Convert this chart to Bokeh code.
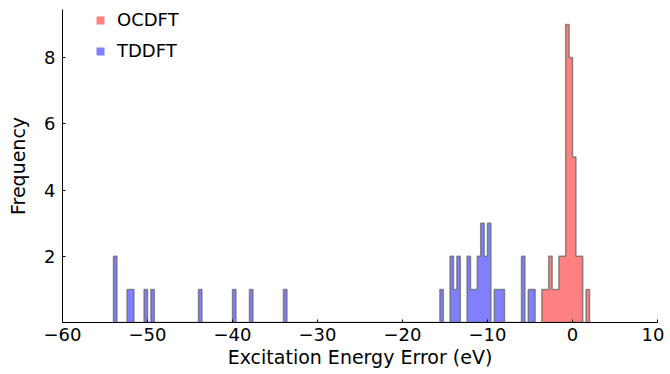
from bokeh.plotting import figure
from bokeh.models import Range1d, FixedTicker, Legend, LegendItem
from bokeh.embed import file_html
from bokeh.resources import INLINE

# Histogram bins (left edge, eV) and counts, bin width 0.4 eV
bin_width = 0.4
ocdft_left = [-3.6, -3.2, -2.8, -2.4, -2.0, -1.6, -1.2, -0.8, -0.4, 0.0, 0.4, 0.8, 1.6]
ocdft_count = [1, 1, 2, 1, 1, 2, 2, 9, 8, 5, 2, 2, 1]
tddft_left = [-54.0, -52.4, -52.0, -50.4, -49.6, -44.0, -40.0, -38.0, -34.0,
              -15.6, -14.4, -14.0, -13.6, -12.4, -12.0, -11.6, -11.2, -10.8,
              -10.4, -10.0, -9.2, -8.8, -8.4, -6.0, -5.2, -4.8]
tddft_count = [2, 1, 1, 1, 1, 1, 1, 1, 1,
               1, 2, 1, 2, 2, 1, 1, 2, 3,
               2, 3, 1, 1, 1, 2, 1, 1]
x_ticks = [-60, -50, -40, -30, -20, -10, 0, 10]
y_ticks = [2, 4, 6, 8]

FONT = "DejaVu Sans"


def step_outline(lefts, counts, w):
    xs, ys = [lefts[0]], [0]
    prev_right = None
    for l, c in zip(lefts, counts):
        if prev_right is not None and abs(l - prev_right) > 1e-9:
            xs += [prev_right, l]
            ys += [0, 0]
        xs += [l, l + w]
        ys += [c, c]
        prev_right = l + w
    xs.append(prev_right)
    ys.append(0)
    return xs, ys


p = figure(width=664, height=370, output_backend="svg", toolbar_location=None,
           x_range=Range1d(-60, 10), y_range=Range1d(0, 9.45),
           min_border_left=62, min_border_right=7, min_border_top=9, min_border_bottom=47)
p.outline_line_color = None
p.xgrid.visible = False
p.ygrid.visible = False
p.background_fill_color = "white"
p.border_fill_color = "white"

edge = "#606060"
tx, ty = step_outline(tddft_left, tddft_count, bin_width)
p.patch(tx, ty, fill_color="#8080ff", fill_alpha=1.0, line_color=edge, line_alpha=0.7, line_width=1.5)
ox, oy = step_outline(ocdft_left, ocdft_count, bin_width)
p.patch(ox, oy, fill_color="#ff8080", fill_alpha=1.0, line_color=edge, line_alpha=0.7, line_width=1.5)

# legend proxies (placed outside the visible range)
r_oc = p.quad(left=[-1001], right=[-1000], bottom=[-1001], top=[-1000],
              fill_color="#ff8080", line_color=None)
r_td = p.quad(left=[-1001], right=[-1000], bottom=[-1001], top=[-1000],
              fill_color="#8080ff", line_color=None)

for ax in (p.xaxis[0], p.yaxis[0]):
    ax.axis_line_color = "black"
    ax.axis_line_width = 1
    ax.major_tick_in = 3
    ax.major_tick_out = 0
    ax.minor_tick_line_color = None
    ax.major_label_text_font = FONT
    ax.major_label_text_font_size = "18px"
    ax.major_label_text_color = "black"
    ax.axis_label_text_font = FONT
    ax.axis_label_text_font_size = "19px"
    ax.axis_label_text_font_style = "normal"
    ax.axis_label_text_color = "black"

p.xaxis.ticker = FixedTicker(ticks=x_ticks)
p.yaxis.ticker = FixedTicker(ticks=y_ticks)
p.xaxis.major_label_overrides = {t: ("\u2212" + str(-t) if t < 0 else str(t)) for t in x_ticks}
p.xaxis.axis_label = "Excitation Energy Error (eV)"
p.yaxis.axis_label = "Frequency"
p.xaxis.major_label_standoff = 5
p.xaxis.axis_label_standoff = 2
p.yaxis.major_label_standoff = 7
p.yaxis.axis_label_standoff = 12

legend = Legend(items=[LegendItem(label="OCDFT", renderers=[r_oc]),
                       LegendItem(label="TDDFT", renderers=[r_td])],
                location=(33, 261))
legend.border_line_color = None
legend.background_fill_alpha = 0
legend.label_text_font = FONT
legend.label_text_font_size = "18px"
legend.label_text_color = "black"
legend.glyph_width = 10
legend.glyph_height = 10
legend.label_height = 20
legend.spacing = 10
legend.padding = 0
legend.margin = 0
legend.label_standoff = 12
p.add_layout(legend, "center")

open("out.html", "w").write(file_html(p, INLINE))
